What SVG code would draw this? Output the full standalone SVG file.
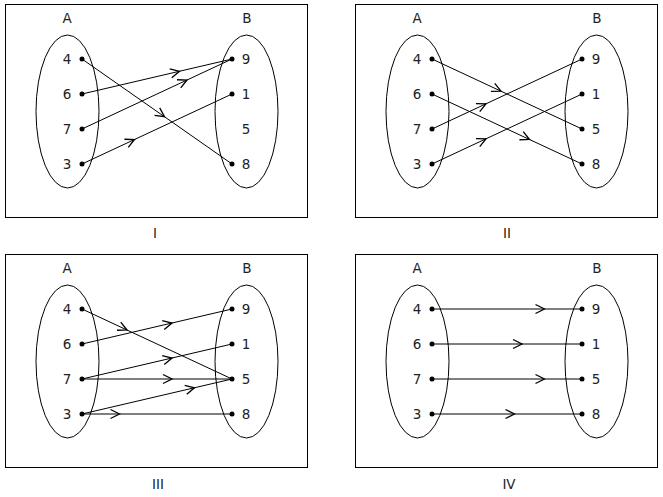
<svg xmlns="http://www.w3.org/2000/svg" width="663" height="497" viewBox="0 0 663 497">
<style>
.frame{fill:none;stroke:#000;stroke-width:1}
.set{fill:none;stroke:#000;stroke-width:1}
.dot{fill:#000}
text{font-family:"DejaVu Sans",sans-serif;font-size:13.5px;fill:#222;text-anchor:middle}
.c{fill:none;stroke:#000;stroke-width:1;marker-mid:url(#chev)}
</style>
<defs>
<marker id="chev" markerUnits="userSpaceOnUse" viewBox="-10 -6 12 12" refX="0" refY="0" markerWidth="12" markerHeight="12" orient="auto" overflow="visible">
<path d="M-9,-4.5 L0,0 L-9,4.5" fill="none" stroke="#000" stroke-width="1.3"/>
</marker>
<g id="panel">
<rect class="frame" x="5.5" y="4.5" width="302" height="213"/>
<text x="67" y="23">A</text>
<text x="247" y="23">B</text>
<ellipse class="set" cx="67.5" cy="111.5" rx="31.5" ry="76.5"/>
<ellipse class="set" cx="246.5" cy="111.5" rx="31.5" ry="76.5"/>
<text x="67" y="63.5">4</text>
<text x="67" y="98.5">6</text>
<text x="67" y="133.5">7</text>
<text x="67" y="168.5">3</text>
<circle class="dot" cx="82" cy="59" r="2.5"/>
<circle class="dot" cx="82" cy="94" r="2.5"/>
<circle class="dot" cx="82" cy="129" r="2.5"/>
<circle class="dot" cx="82" cy="164" r="2.5"/>
</g>
</defs>

<g id="panel-I">
<use href="#panel"/>
<text x="246" y="63.5">9</text>
<text x="246" y="98.5">1</text>
<text x="246" y="133.5">5</text>
<text x="246" y="168.5">8</text>
<circle class="dot" cx="232" cy="59" r="2.5"/>
<circle class="dot" cx="232" cy="94" r="2.5"/>
<circle class="dot" cx="232" cy="164" r="2.5"/>
<text x="155" y="238">I</text>
</g>

<g id="panel-II">
<use href="#panel" x="350"/>
<text x="596" y="63.5">9</text>
<text x="596" y="98.5">1</text>
<text x="596" y="133.5">5</text>
<text x="596" y="168.5">8</text>
<circle class="dot" cx="582" cy="59" r="2.5"/>
<circle class="dot" cx="582" cy="94" r="2.5"/>
<circle class="dot" cx="582" cy="129" r="2.5"/>
<circle class="dot" cx="582" cy="164" r="2.5"/>
<text x="507" y="238">II</text>
</g>

<g id="panel-III">
<use href="#panel" y="250"/>
<text x="246" y="313.5">9</text>
<text x="246" y="348.5">1</text>
<text x="246" y="383.5">5</text>
<text x="246" y="418.5">8</text>
<circle class="dot" cx="232" cy="309" r="2.5"/>
<circle class="dot" cx="232" cy="344" r="2.5"/>
<circle class="dot" cx="232" cy="379" r="2.5"/>
<circle class="dot" cx="232" cy="414" r="2.5"/>
<text x="158" y="489">III</text>
</g>

<g id="panel-IV">
<use href="#panel" x="350" y="250"/>
<text x="596" y="313.5">9</text>
<text x="596" y="348.5">1</text>
<text x="596" y="383.5">5</text>
<text x="596" y="418.5">8</text>
<circle class="dot" cx="582" cy="309" r="2.5"/>
<circle class="dot" cx="582" cy="344" r="2.5"/>
<circle class="dot" cx="582" cy="379" r="2.5"/>
<circle class="dot" cx="582" cy="414" r="2.5"/>
<text x="509" y="489">IV</text>
</g>

<g id="connectors">
<!-- I -->
<polyline class="c" points="82,59 164.5,116.75 232,164"/>
<polyline class="c" points="82,94 179.5,71.25 232,59"/>
<polyline class="c" points="82,129 187,80 232,59"/>
<polyline class="c" points="82,164 134.5,139.5 232,94"/>
<!-- II -->
<polyline class="c" points="432,59 501,91.2 582,129"/>
<polyline class="c" points="432,94 529.5,139.5 582,164"/>
<polyline class="c" points="432,129 486,103.8 582,59"/>
<polyline class="c" points="432,164 486,138.8 582,94"/>
<!-- III -->
<polyline class="c" points="82,309 127,330 232,379"/>
<polyline class="c" points="82,344 172,323 232,309"/>
<polyline class="c" points="82,379 172,358 232,344"/>
<polyline class="c" points="82,379 172,379 232,379"/>
<polyline class="c" points="82,414 194.5,387.75 232,379"/>
<polyline class="c" points="82,414 119.5,414 232,414"/>
<!-- IV -->
<polyline class="c" points="432,309 544.5,309 582,309"/>
<polyline class="c" points="432,344 522,344 582,344"/>
<polyline class="c" points="432,379 544.5,379 582,379"/>
<polyline class="c" points="432,414 514.5,414 582,414"/>
</g>
</svg>
